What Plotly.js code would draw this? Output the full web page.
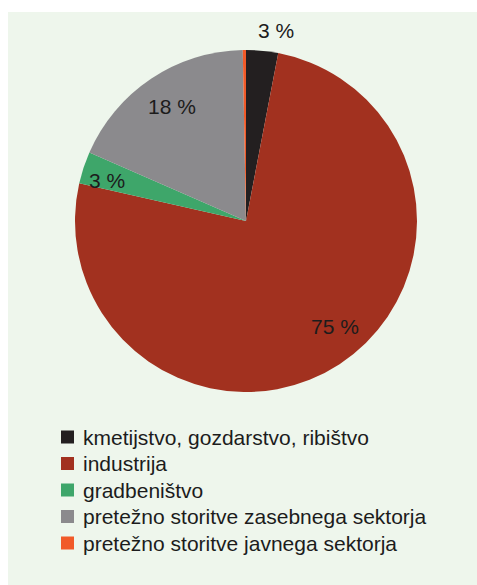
<!DOCTYPE html>
<html>
<head>
<meta charset="utf-8">
<script src="https://cdn.plot.ly/plotly-3.0.1.min.js"></script>
<style>
  html, body { margin: 0; padding: 0; background: #ffffff; }
  #chart { position: absolute; left: 8px; top: 12px; width: 469px; height: 573px; }
</style>
</head>
<body>
<div id="chart"></div>
<script>
// Sectors, in clockwise order from 12 o'clock
const sectors = [
  'kmetijstvo, gozdarstvo, ribištvo',
  'industrija',
  'gradbeništvo',
  'pretežno storitve zasebnega sektorja',
  'pretežno storitve javnega sektorja'
];
// Shares in percent
const shares = [3, 75, 3, 18, 0.3];
// Which shares carry a printed label
const labelled = [true, true, true, true, false];
const colors = ['#231f20', '#a2311f', '#3ea66a', '#8b8a8d', '#f15a29'];

const W = 469, H = 573;
const toX = px => px / W;
const toY = py => 1 - py / H;
const FONT = 'Liberation Sans, Arial, sans-serif';

// Label anchor points (pixels inside the chart box)
const labelPos = [[268, 18], [327, 314], [99, 168], [164, 94], null];

const annotations = [];
const shapes = [];

shares.forEach((v, i) => {
  if (!labelled[i]) return;
  annotations.push({
    xref: 'paper', yref: 'paper',
    x: toX(labelPos[i][0]), y: toY(labelPos[i][1]),
    xanchor: 'center', yanchor: 'middle',
    text: v + ' %', showarrow: false,
    font: { family: FONT, size: 21, color: '#1c1c1c' }
  });
});

// Legend below the pie: a coloured square and the sector name per row
const legendTop = 425, rowStep = 26.5, sq = 13, sqLeft = 53, textLeft = 73;
sectors.forEach((name, i) => {
  const yc = legendTop + rowStep * i;
  shapes.push({
    type: 'rect', xref: 'paper', yref: 'paper',
    x0: toX(sqLeft), x1: toX(sqLeft + sq),
    y0: toY(yc + sq / 2), y1: toY(yc - sq / 2),
    fillcolor: colors[i], line: { width: 0 }
  });
  annotations.push({
    xref: 'paper', yref: 'paper',
    x: toX(textLeft), y: toY(yc),
    xanchor: 'left', yanchor: 'middle',
    text: name, showarrow: false,
    font: { family: FONT, size: 21, color: '#1c1c1c' }
  });
});

const cx = 238, cy = 209, r = 171;

const trace = {
  type: 'pie',
  labels: sectors,
  values: shares,
  sort: false,
  direction: 'clockwise',
  rotation: 0,
  textinfo: 'none',
  hoverinfo: 'label+percent',
  showlegend: false,
  marker: { colors: colors, line: { width: 0 } },
  domain: { x: [toX(cx - r), toX(cx + r)], y: [toY(cy + r), toY(cy - r)] }
};

const layout = {
  width: W, height: H,
  margin: { l: 0, r: 0, t: 0, b: 0 },
  paper_bgcolor: '#eef6ec',
  showlegend: false,
  annotations: annotations,
  shapes: shapes
};

Plotly.newPlot('chart', [trace], layout, { displayModeBar: false, staticPlot: true });
</script>
</body>
</html>
